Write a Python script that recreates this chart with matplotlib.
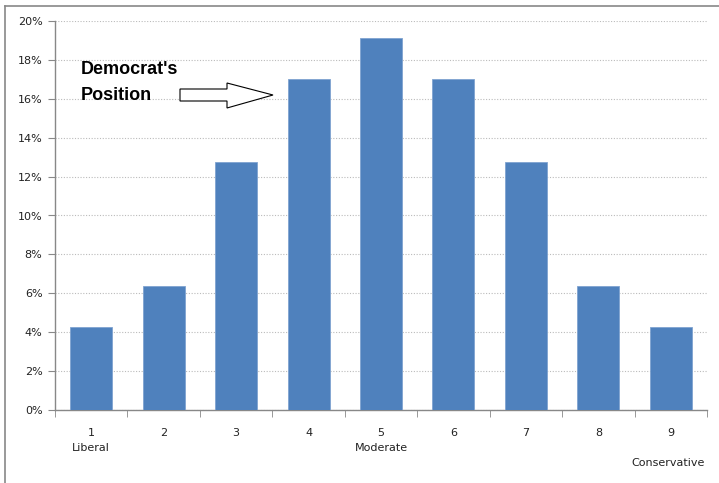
import matplotlib
matplotlib.use("Agg")
import matplotlib.pyplot as plt
from matplotlib.patches import Polygon
from matplotlib.lines import Line2D
import numpy as np

positions = [1, 2, 3, 4, 5, 6, 7, 8, 9]
tick_labels = ["1", "2", "3", "4", "5", "6", "7", "8", "9"]
descriptors = {0: "Liberal", 4: "Moderate"}
end_label = "Conservative"
values = [4.25, 6.38, 12.77, 17.0, 19.15, 17.0, 12.77, 6.38, 4.25]
y_ticks = [0, 2, 4, 6, 8, 10, 12, 14, 16, 18, 20]

W, H = 719, 483
fig = plt.figure(figsize=(W / 100, H / 100), dpi=100)
ax = fig.add_axes([55 / W, 1 - 410 / H, (707 - 55) / W, (410 - 21) / H])

bar_color = "#4F81BD"
x = np.arange(len(positions))
ax.bar(x, values, width=0.58, color=bar_color, edgecolor="#7FA3D0", linewidth=0.6, zorder=3)

ax.set_xlim(-0.5, len(positions) - 0.5)
ax.set_ylim(0, 20)
ax.set_yticks(y_ticks)
ax.set_yticklabels([f"{v}%" for v in y_ticks], fontsize=8, color="#222222")
ax.yaxis.grid(True, linestyle=(0, (1, 1.5)), color="#BBBBBB", linewidth=0.8, zorder=0)

ax.set_xticks(x)
ax.set_xticklabels(tick_labels, fontsize=8, color="#222222")
ax.tick_params(axis="x", length=0, pad=13)
ax.set_xticks(np.arange(-0.5, len(positions)), minor=True)
ax.tick_params(axis="x", which="minor", length=5, color="#888888")
ax.tick_params(axis="y", length=5, color="#888888", pad=4)

trans = ax.get_xaxis_transform()
for i, lab in descriptors.items():
    ax.text(x[i], -38 / (410 - 21), lab, transform=trans, fontsize=8,
            color="#222222", ha="center", va="center")

for s in ["top", "right"]:
    ax.spines[s].set_visible(False)
for s in ["left", "bottom"]:
    ax.spines[s].set_color("#888888")
    ax.spines[s].set_linewidth(1.0)

fig.text(705 / W, 1 - 463 / H, end_label, fontsize=8, color="#222222",
         ha="right", va="center")

# annotation
fig.text(81 / W, 1 - 70 / H, "Democrat's", fontsize=13, fontweight="bold",
         family=["Liberation Sans", "DejaVu Sans"], ha="left", va="center")
fig.text(81 / W, 1 - 95 / H, "Position", fontsize=13, fontweight="bold",
         family=["Liberation Sans", "DejaVu Sans"], ha="left", va="center")

pts = [(180, 89), (227, 89), (227, 83), (273, 95), (227, 108), (227, 101), (180, 101)]
poly = Polygon([(px / W, 1 - py / H) for px, py in pts], closed=True,
               transform=fig.transFigure, facecolor="white", edgecolor="black",
               linewidth=0.8)
fig.patches.append(poly)

# outer frame
fig.lines.append(Line2D([5 / W, 5 / W], [0, 1 - 6 / H], transform=fig.transFigure,
                        color="#888888", linewidth=1.2))
fig.lines.append(Line2D([5 / W, 1], [1 - 6 / H, 1 - 6 / H], transform=fig.transFigure,
                        color="#888888", linewidth=1.2))

fig.savefig("out.png", dpi=100)
